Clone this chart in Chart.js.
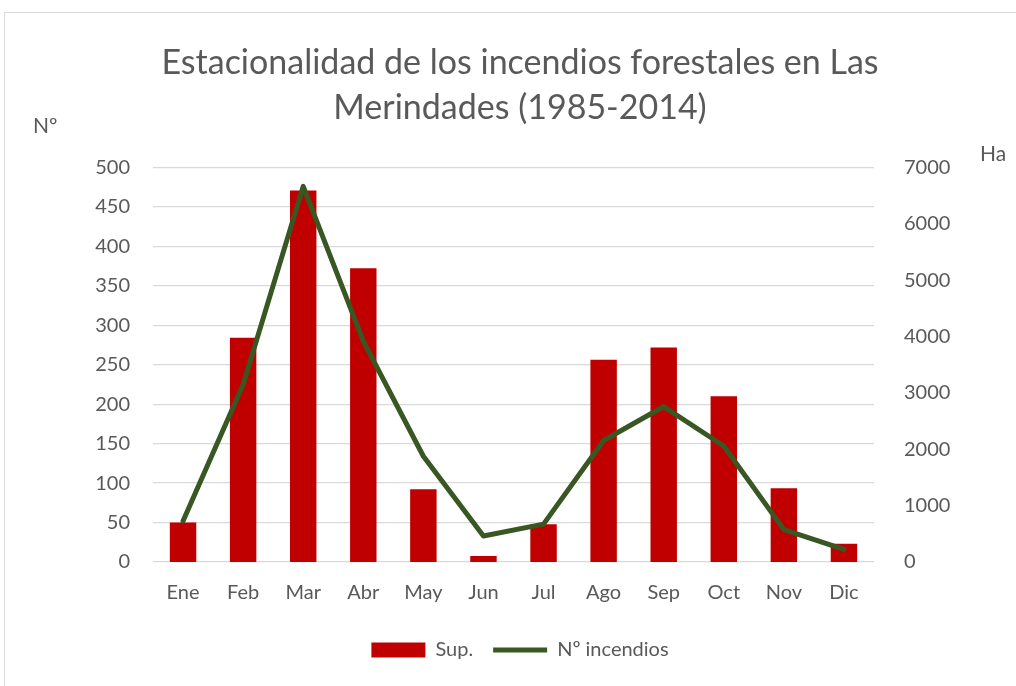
<!DOCTYPE html>
<html>
<head>
<meta charset="utf-8">
<script src="https://cdn.jsdelivr.net/npm/chart.js@4"></script>
<style>
  body { margin: 0; background: #fff; }
  #wrap { position: relative; width: 1016px; height: 686px; overflow: hidden; }
  #frame { position: absolute; left: 4px; top: 12px; width: 1030px; height: 700px; border: 1px solid #d9d9d9; box-sizing: border-box; }
  canvas { position: absolute; left: 0; top: 0; }
  .unit { position: absolute; font-family: Lato, sans-serif; font-size: 21px; color: #595959; }
</style>
</head>
<body>
<div id="wrap">
  <div id="frame"></div>
  <canvas id="chart" width="1016" height="686"></canvas>
  <div class="unit" style="left:33px; top:112px;">Nº</div>
  <div class="unit" style="left:980px; top:140px;">Ha</div>
</div>
<script>
const months = ['Ene', 'Feb', 'Mar', 'Abr', 'May', 'Jun', 'Jul', 'Ago', 'Sep', 'Oct', 'Nov', 'Dic']
// superficie quemada (Ha), eje derecho
const sup = [700, 3980, 6590, 5210, 1290, 105, 670, 3590, 3805, 2940, 1310, 325]
// numero de incendios, eje izquierdo
const numIncendios = [52, 225, 476, 280, 134, 33, 48, 154, 197, 147, 41, 16]
const leftTicks = [0, 50, 100, 150, 200, 250, 300, 350, 400, 450, 500]
const rightTicks = [0, 1000, 2000, 3000, 4000, 5000, 6000, 7000]

const grey = '#595959'
const font = { family: 'Lato, sans-serif', size: 20 }

const ctx = document.getElementById('chart').getContext('2d')

const chart = new Chart(ctx, {
    data: {
        labels: months,
        datasets: [{
            type: 'bar',
            label: 'Sup.',
            data: sup,
            yAxisID: 'yHa',
            backgroundColor: '#C00000',
            barPercentage: 0.44,
            categoryPercentage: 1,
            pointStyle: 'rect',
            order: 1
        }, {
            type: 'line',
            label: 'Nº incendios',
            data: numIncendios,
            yAxisID: 'yNum',
            borderColor: '#385723',
            backgroundColor: '#385723',
            borderWidth: 5,
            borderCapStyle: 'round',
            borderJoinStyle: 'round',
            pointRadius: 0,
            pointStyle: 'line',
            tension: 0,
            order: 0
        }]
    },
    options: {
        responsive: false,
        animation: false,
        layout: { padding: { left: 24, right: 0, top: 40, bottom: 16 } },
        plugins: {
            title: {
                display: true,
                text: ['Estacionalidad de los incendios forestales en Las', 'Merindades (1985-2014)'],
                color: grey,
                font: { family: 'Lato, sans-serif', size: 34, weight: 'normal', lineHeight: 1.33 },
                padding: { top: 0, bottom: 37 }
            },
            legend: {
                position: 'bottom',
                labels: {
                    color: grey,
                    font: font,
                    usePointStyle: true,
                    pointStyleWidth: 54,
                    boxHeight: 15,
                    padding: 20,
                    sort: (a, b) => a.datasetIndex - b.datasetIndex
                }
            },
            tooltip: { enabled: false }
        },
        scales: {
            x: {
                grid: { display: false },
                border: { display: false },
                ticks: { color: grey, font: font, padding: 11 },
                afterFit: s => { s.height = 58 }
            },
            yNum: {
                position: 'left',
                min: 0,
                max: 500,
                afterBuildTicks: s => { s.ticks = leftTicks.map(v => ({ value: v })) },
                grid: { color: '#d9d9d9', lineWidth: 1.3, drawTicks: false },
                border: { display: false },
                ticks: { color: grey, font: font, padding: 23 },
                afterFit: s => { s.width = 153 - 24 }
            },
            yHa: {
                position: 'right',
                min: 0,
                max: 7000,
                afterBuildTicks: s => { s.ticks = rightTicks.map(v => ({ value: v })) },
                grid: { display: false },
                border: { display: false },
                ticks: { color: grey, font: font, padding: 22, callback: v => String(v) },
                afterFit: s => { s.width = 1016 - 874 }
            }
        }
    }
})
</script>
</body>
</html>
